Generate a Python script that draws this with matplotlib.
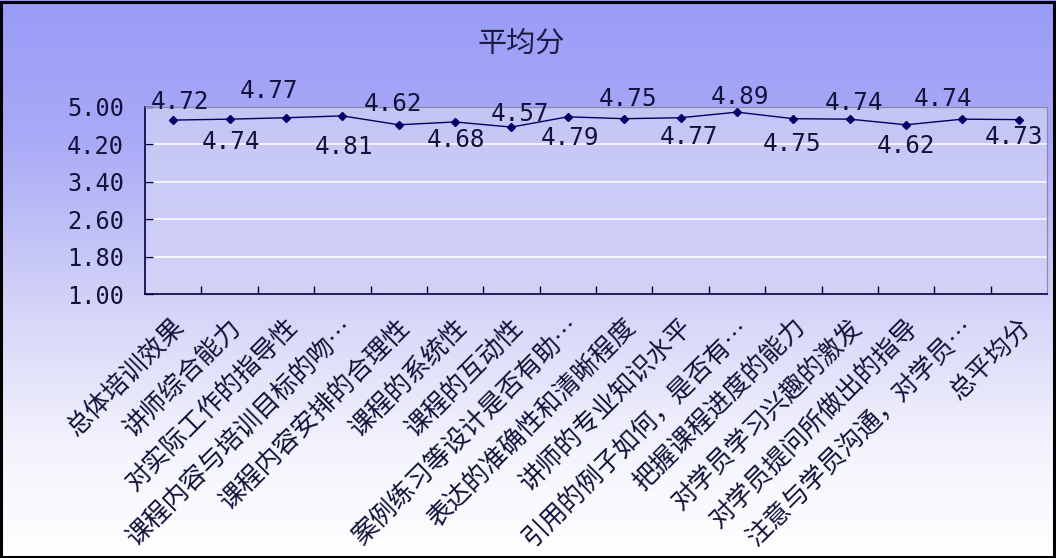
import numpy as np
import matplotlib
matplotlib.use("Agg")
from matplotlib import pyplot as plt
from matplotlib.colors import LinearSegmentedColormap
from matplotlib.patches import Rectangle

# data
categories = ["总体培训效果", "讲师综合能力", "对实际工作的指导性", "课程内容与培训目标的吻…",
              "课程内容安排的合理性", "课程的系统性", "课程的互动性", "案例练习等设计是否有助…",
              "表达的准确性和清晰程度", "讲师的专业知识水平", "引用的例子如何，是否有…",
              "把握课程进度的能力", "对学员学习兴趣的激发", "对学员提问所做出的指导",
              "注意与学员沟通，对学员…", "总平均分"]
scores = [4.72, 4.74, 4.77, 4.81, 4.62, 4.68, 4.57, 4.79,
          4.75, 4.77, 4.89, 4.75, 4.74, 4.62, 4.74, 4.73]
yticks = [1.00, 1.80, 2.60, 3.40, 4.20, 5.00]
title = "平均分"

# hand placed value labels (pixel offsets from each marker)
label_dx = [7, 1, -17, 2, -6, 1, 9, 2, 4, 8, 3, -1, 4, 0, -19, -5]
label_dy = [18, -23, 27, -31, 21, -18, 13, -21, 20, -19, 15, -25, 16, -21, 20, -17]

cjk = ["Noto Sans CJK SC", "DejaVu Sans"]
mono = "DejaVu Sans Mono"
ink = "#12123a"

fig = plt.figure(figsize=(10.56, 5.58), dpi=100)

# figure background gradient
bg = fig.add_axes([0, 0, 1, 1], zorder=0)
bg_cmap = LinearSegmentedColormap.from_list(
    "bg", [(0.0, "#9a9bf7"), (0.25, "#a9aaf6"), (0.55, "#d4d4f8"),
           (0.8, "#f3f3fd"), (1.0, "#ffffff")])
grad = np.linspace(0, 1, 256).reshape(-1, 1)
bg.imshow(grad, aspect="auto", cmap=bg_cmap, extent=[0, 1, 1, 0])
bg.set_axis_off()
fig.add_artist(Rectangle((0.001, 0.002), 0.997, 0.995, transform=fig.transFigure,
                         fill=False, edgecolor="black", linewidth=2.2, zorder=10))

ax = fig.add_axes([145 / 1056, 1 - 294 / 558, 902 / 1056, 187 / 558], zorder=1)
ax.set_xlim(-0.5, len(categories) - 0.5)
ax.set_ylim(1.0, 5.0)

# plot area gradient
pa_cmap = LinearSegmentedColormap.from_list("pa", ["#c4c5f5", "#d3d3f8"])
ax.imshow(grad, aspect="auto", cmap=pa_cmap,
          extent=[-0.5, len(categories) - 0.5, 1.0, 5.0], zorder=0)

for y in yticks[1:-1]:
    ax.axhline(y, color="white", linewidth=1.1, zorder=1)

x = np.arange(len(categories))
ax.plot(x, scores, color="#000066", linewidth=1.0, marker="D", markersize=4.5,
        markerfacecolor="#000066", markeredgecolor="#000066", zorder=3)

for i, v in enumerate(scores):
    ax.annotate(f"{v:.2f}", (x[i], v), xytext=(label_dx[i], label_dy[i]),
                textcoords="offset pixels", ha="center", va="center",
                fontsize=17.5, family=mono, color=ink, zorder=4,
                annotation_clip=False)

# category labels, rotated like the spreadsheet does
for i, name in enumerate(categories):
    ax.annotate(name, (x[i], 0), xycoords=("data", "axes fraction"),
                xytext=(8, -29), textcoords="offset pixels",
                ha="right", va="center", rotation=45, rotation_mode="anchor",
                fontsize=18.5, family=cjk, color=ink, annotation_clip=False)

ax.set_xticks(x[:-1] + 0.5)
ax.set_xticklabels([])
ax.tick_params(axis="x", direction="in", length=6, width=1, color="#000040")
ax.set_yticks(yticks)
ax.set_yticklabels([f"{t:.2f}" for t in yticks], family=mono, fontsize=17, color=ink)
ax.tick_params(axis="y", direction="in", length=6, width=1, color="#000040", pad=15)

for side in ["left", "bottom"]:
    ax.spines[side].set_color("#000040")
    ax.spines[side].set_linewidth(1.2)
for side in ["top", "right"]:
    ax.spines[side].set_color("#8a8aa8")
    ax.spines[side].set_linewidth(0.9)

fig.text(521 / 1056, 1 - 44 / 558, title, ha="center", va="center",
         fontsize=21, family=cjk, color="#1c1c44")

fig.savefig("out.png", dpi=100)
